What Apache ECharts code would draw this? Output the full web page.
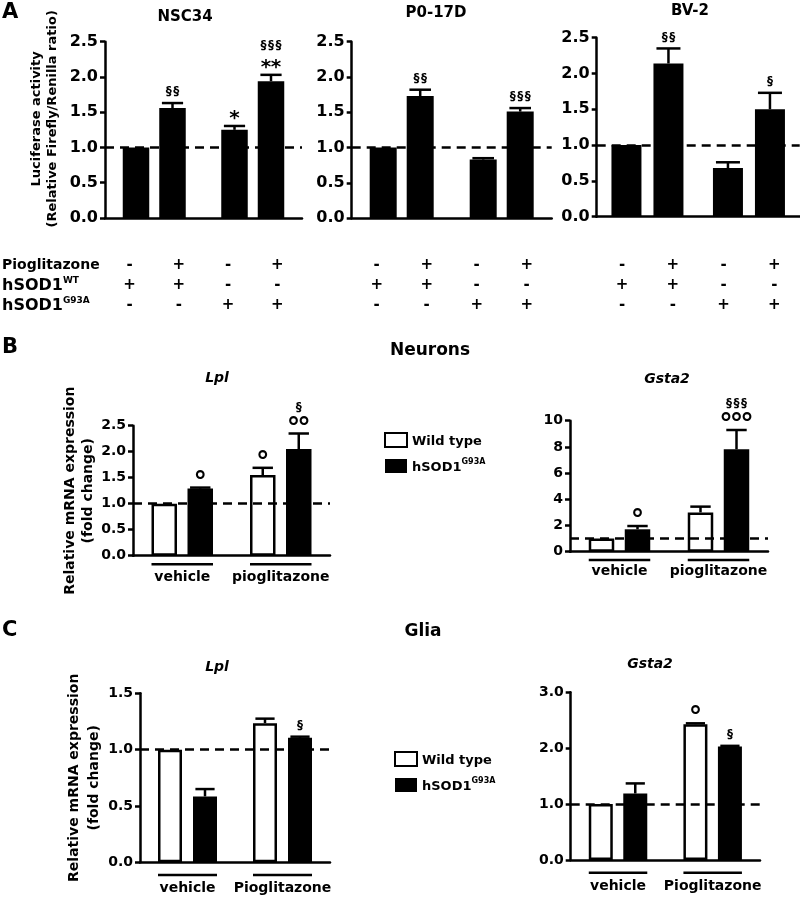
<!DOCTYPE html>
<html><head><meta charset="utf-8">
<script src="https://cdn.jsdelivr.net/npm/echarts@6/dist/echarts.min.js"></script>
<style>html,body{margin:0;padding:0;background:#fff}#c{width:800px;height:898px}</style>
</head><body><div id="c"></div>
<script>
const FONT = '"DejaVu Sans", sans-serif';

// ---------- Panel A : luciferase activity ----------
const nsc34Mean = [1.00, 1.56, 1.25, 1.94];
const nsc34Err  = [0.00, 0.07, 0.055, 0.09];
const nsc34Marks = [[], ['§§'], ['*'], ['**', '§§§']];
const p017dMean = [1.00, 1.73, 0.83, 1.51];
const p017dErr  = [0.00, 0.09, 0.02, 0.05];
const p017dMarks = [[], ['§§'], [], ['§§§']];
const bv2Mean = [1.00, 2.14, 0.68, 1.50];
const bv2Err  = [0.00, 0.21, 0.08, 0.23];
const bv2Marks = [[], ['§§'], [], ['§']];
const ticksA = [0, 0.5, 1.0, 1.5, 2.0, 2.5];
const pioglitazoneRow = ['-', '+', '-', '+'];
const hsod1WtRow      = ['+', '+', '-', '-'];
const hsod1G93aRow    = ['-', '-', '+', '+'];

// ---------- Panel B : neurons ----------
const treatmentsB = ['vehicle', 'pioglitazone'];
const neuronLplWT = [1.00, 1.55];
const neuronLplWTErr = [0.00, 0.14];
const neuronLplG93A = [1.29, 2.05];
const neuronLplG93AErr = [0.02, 0.30];
const neuronLplWTMarks = [[], ['°']];
const neuronLplG93AMarks = [['°'], ['°°', '§']];
const ticksNeuronLpl = [0, 0.5, 1.0, 1.5, 2.0, 2.5];

const neuronGstaWT = [1.00, 3.00];
const neuronGstaWTErr = [0.00, 0.44];
const neuronGstaG93A = [1.71, 7.82];
const neuronGstaG93AErr = [0.25, 1.47];
const neuronGstaWTMarks = [[], []];
const neuronGstaG93AMarks = [['°'], ['°°°', '§§§']];
const ticksNeuronGsta = [0, 2, 4, 6, 8, 10];

// ---------- Panel C : glia ----------
const treatmentsC = ['vehicle', 'Pioglitazone'];
const gliaLplWT = [1.00, 1.235];
const gliaLplWTErr = [0.00, 0.04];
const gliaLplG93A = [0.585, 1.105];
const gliaLplG93AErr = [0.065, 0.01];
const gliaLplWTMarks = [[], []];
const gliaLplG93AMarks = [[], ['§']];
const ticksGliaLpl = [0, 0.5, 1.0, 1.5];

const gliaGstaWT = [1.00, 2.43];
const gliaGstaWTErr = [0.00, 0.015];
const gliaGstaG93A = [1.19, 2.03];
const gliaGstaG93AErr = [0.18, 0.012];
const gliaGstaWTMarks = [[], ['°']];
const gliaGstaG93AMarks = [[], ['§']];
const ticksGliaGsta = [0, 1.0, 2.0, 3.0];

// ---------- layout ----------
const pairA = (arr, s) => [arr[s], arr[s + 2]];
const panels = [
  { grid: {left: 105, top: 41.7, width: 197, height: 176.3}, bw: 26.5, gap: 10, cats: ['WT', 'G93A'],
    first: pairA(nsc34Mean, 0), firstErr: pairA(nsc34Err, 0), firstMarks: pairA(nsc34Marks, 0),
    second: pairA(nsc34Mean, 1), secondErr: pairA(nsc34Err, 1), secondMarks: pairA(nsc34Marks, 1),
    ticks: ticksA, dec: 1, fs: 16, table: true, tableMargin: 37, white: false,
    yName: 'Luciferase activity\n(Relative Firefly/Renilla ratio)', nameGap: 44, nameFs: 13, nameLh: 16, namePad: [0, 0, 0, 22] },
  { grid: {left: 351.7, top: 41.7, width: 200, height: 176.5}, bw: 27, gap: 10, cats: ['WT', 'G93A'],
    first: pairA(p017dMean, 0), firstErr: pairA(p017dErr, 0), firstMarks: pairA(p017dMarks, 0),
    second: pairA(p017dMean, 1), secondErr: pairA(p017dErr, 1), secondMarks: pairA(p017dMarks, 1),
    ticks: ticksA, dec: 1, fs: 16, table: true, tableMargin: 37, white: false },
  { grid: {left: 596.7, top: 37.7, width: 203, height: 179}, bw: 30, gap: 12, cats: ['WT', 'G93A'],
    first: pairA(bv2Mean, 0), firstErr: pairA(bv2Err, 0), firstMarks: pairA(bv2Marks, 0),
    second: pairA(bv2Mean, 1), secondErr: pairA(bv2Err, 1), secondMarks: pairA(bv2Marks, 1),
    ticks: ticksA, dec: 1, fs: 16, table: true, tableMargin: 38.3, white: false },
  { grid: {left: 133, top: 425.7, width: 197, height: 130}, bw: 25.5, gap: 10.5, cats: treatmentsB,
    first: neuronLplWT, firstErr: neuronLplWTErr, firstMarks: neuronLplWTMarks,
    second: neuronLplG93A, secondErr: neuronLplG93AErr, secondMarks: neuronLplG93AMarks,
    ticks: ticksNeuronLpl, dec: 1, fs: 14, white: true, underline: 8.5, labelMargin: 15,
    yName: 'Relative mRNA expression\n(fold change)', nameGap: 34, nameFs: 14, nameLh: 18 },
  { grid: {left: 570, top: 420.7, width: 198, height: 131}, bw: 25.5, gap: 10.5, cats: treatmentsB,
    first: neuronGstaWT, firstErr: neuronGstaWTErr, firstMarks: neuronGstaWTMarks,
    second: neuronGstaG93A, secondErr: neuronGstaG93AErr, secondMarks: neuronGstaG93AMarks,
    ticks: ticksNeuronGsta, dec: 0, fs: 14, white: true, underline: 8.3, labelMargin: 13 },
  { grid: {left: 140, top: 693.3, width: 190, height: 169}, bw: 24, gap: 11, cats: treatmentsC,
    first: gliaLplWT, firstErr: gliaLplWTErr, firstMarks: gliaLplWTMarks,
    second: gliaLplG93A, secondErr: gliaLplG93AErr, secondMarks: gliaLplG93AMarks,
    ticks: ticksGliaLpl, dec: 1, fs: 14, white: true, underline: 12.7, labelMargin: 19,
    yName: 'Relative mRNA expression\n(fold change)', nameGap: 30, nameFs: 14, nameLh: 20 },
  { grid: {left: 570.7, top: 692.3, width: 189.3, height: 167.7}, bw: 24, gap: 10.5, cats: treatmentsC,
    first: gliaGstaWT, firstErr: gliaGstaWTErr, firstMarks: gliaGstaWTMarks,
    second: gliaGstaG93A, secondErr: gliaGstaG93AErr, secondMarks: gliaGstaG93AMarks,
    ticks: ticksGliaGsta, dec: 1, fs: 14, white: true, underline: 12.7, labelMargin: 19 }
];

// glyph look for the significance marks: font size, vertical nudge, spacing between repeated glyphs
const markGlyph = {
  '§': {size: 12, dy: 0, step: 7.5},
  '*': {size: 20, dy: 4, step: 10},
  '°': {size: 27, dy: 6, step: 10.5}
};

const grids = [], xAxes = [], yAxes = [], series = [];
panels.forEach((p, i) => {
  grids.push(Object.assign({containLabel: false}, p.grid));
  const xi = xAxes.length;
  xAxes.push({
    type: 'category', gridIndex: i, position: 'bottom', data: p.cats,
    axisLine: {show: true, lineStyle: {color: '#000', width: 2.5}},
    axisTick: {show: false},
    axisLabel: p.table ? {show: false} : {interval: 0, margin: p.labelMargin, color: '#000', fontFamily: FONT, fontWeight: 'bold', fontSize: 14}
  });
  if (p.table) {
    xAxes.push({
      type: 'category', gridIndex: i, position: 'bottom', data: ['1', '2', '3', '4'],
      axisLine: {show: false}, axisTick: {show: false},
      axisLabel: {interval: 0, margin: p.tableMargin, lineHeight: 20, color: '#000', fontFamily: FONT, fontWeight: 'bold', fontSize: 15,
        formatter: (v, idx) => pioglitazoneRow[idx] + '\n' + hsod1WtRow[idx] + '\n' + hsod1G93aRow[idx]}
    });
  }
  const t = p.ticks;
  yAxes.push({
    type: 'value', gridIndex: i, min: t[0], max: t[t.length - 1], interval: t[1] - t[0],
    axisLine: {show: true, lineStyle: {color: '#000', width: 2.5}},
    axisTick: {show: true, length: 5, lineStyle: {color: '#000', width: 2.5}},
    splitLine: {show: false},
    axisLabel: {margin: 7, color: '#000', fontFamily: FONT, fontWeight: 'bold', fontSize: p.fs,
      formatter: v => v.toFixed(p.dec)},
    name: p.yName || '', nameLocation: 'middle', nameRotate: 90, nameGap: p.nameGap || 0,
    nameTextStyle: {color: '#000', fontFamily: FONT, fontWeight: 'bold', fontSize: p.nameFs || 13, lineHeight: p.nameLh || 16, padding: p.namePad || 0}
  });
  const gapPct = (p.gap / p.bw * 100) + '%';
  const whiteStyle = {color: '#fff', borderColor: '#000', borderWidth: 2.5};
  const blackStyle = {color: '#000', borderColor: '#000', borderWidth: 0};
  series.push({
    type: 'bar', name: p.white ? 'Wild type' : 'bars' + i + 'a', xAxisIndex: xi, yAxisIndex: i,
    data: p.first, barWidth: p.bw, barGap: gapPct, itemStyle: p.white ? whiteStyle : blackStyle, silent: true
  });
  series.push({
    type: 'bar', name: p.white ? 'hSOD1G93A' : 'bars' + i + 'b', xAxisIndex: xi, yAxisIndex: i,
    data: p.second, barWidth: p.bw, barGap: gapPct, itemStyle: blackStyle, silent: true,
    markLine: {silent: true, symbol: ['none', 'none'], label: {show: false}, z: 10,
      lineStyle: {color: '#000', width: 2.5, type: [9, 6]}, data: [{yAxis: 1}]}
  });
  const items = [];
  p.cats.forEach((c, k) => {
    items.push({cat: k, side: 0, mean: p.first[k], err: p.firstErr[k], marks: p.firstMarks[k]});
    items.push({cat: k, side: 1, mean: p.second[k], err: p.secondErr[k], marks: p.secondMarks[k]});
  });
  series.push({
    type: 'custom', xAxisIndex: xi, yAxisIndex: i, clip: false, silent: true, z: 5,
    data: items.map(it => [it.cat, it.mean + it.err, it.mean]),
    encode: {x: 0, y: [1, 2]},
    renderItem: (params, api) => {
      const it = items[params.dataIndex];
      const off = (p.bw + p.gap) / 2 * (it.side ? 1 : -1);
      const top = api.coord([api.value(0), api.value(1)]);
      const base = api.coord([api.value(0), api.value(2)]);
      const x = top[0] + off;
      const ch = [];
      const ls = {stroke: '#000', lineWidth: 2.5};
      if (it.err > 0) {
        const cw = p.bw * 0.4;
        ch.push({type: 'line', shape: {x1: x, y1: base[1], x2: x, y2: top[1]}, style: ls});
        ch.push({type: 'line', shape: {x1: x - cw, y1: top[1], x2: x + cw, y2: top[1]}, style: ls});
      }
      let cy = top[1] - 11;
      it.marks.forEach((m, k) => {
        const g = markGlyph[m[0]];
        if (k > 0) cy -= (it.marks[k - 1][0] === '*' ? 18 : 15);
        const n = m.length;
        for (let j = 0; j < n; j++) {
          const gx = x + (j - (n - 1) / 2) * g.step;
          ch.push({type: 'text', x: gx, y: cy + g.dy, style: {text: m[j], fill: '#000',
            font: 'bold ' + g.size + 'px ' + FONT, align: 'center', verticalAlign: 'middle',
            textAlign: 'center', textVerticalAlign: 'middle'}});
        }
      });
      if (p.underline && it.side === 0) {
        const zero = api.coord([api.value(0), 0]);
        const half = (p.bw + p.gap) / 2 + p.bw / 2;
        const uy = zero[1] + p.underline;
        ch.push({type: 'line', shape: {x1: zero[0] - half, y1: uy, x2: zero[0] + half, y2: uy}, style: ls});
      }
      return {type: 'group', children: ch};
    }
  });
});

function txt(text, x, y, size, align, italic, rich) {
  const st = {text: text, fill: '#000', font: (italic ? 'italic ' : '') + 'bold ' + size + 'px ' + FONT,
    align: align, verticalAlign: 'middle', textAlign: align, textVerticalAlign: 'middle'};
  if (rich) st.rich = rich;
  return {type: 'text', x: x, y: y, style: st, silent: true};
}
const supRich = {
  a: {fontFamily: FONT, fontWeight: 'bold', fontSize: 16, lineHeight: 18, verticalAlign: 'bottom', color: '#000'},
  s: {fontFamily: FONT, fontWeight: 'bold', fontSize: 9, lineHeight: 8, verticalAlign: 'top', color: '#000'}
};
const legendRich = {
  a: {fontFamily: FONT, fontWeight: 'bold', fontSize: 13, lineHeight: 16, verticalAlign: 'bottom', color: '#000'},
  s: {fontFamily: FONT, fontWeight: 'bold', fontSize: 8, lineHeight: 8, verticalAlign: 'top', color: '#000'}
};

const graphics = [
  txt('A', 2, 13, 21, 'left'),
  txt('NSC34', 185, 17, 15, 'center'),
  txt('P0-17D', 436, 13, 15, 'center'),
  txt('BV-2', 690, 11, 15, 'center'),
  txt('Pioglitazone', 2, 265, 14, 'left'),
  txt('{a|hSOD1}{s|WT}', 2, 285, 16, 'left', false, supRich),
  txt('{a|hSOD1}{s|G93A}', 2, 305, 16, 'left', false, supRich),
  txt('B', 2, 348, 21, 'left'),
  txt('Neurons', 430, 351, 17, 'center'),
  txt('Lpl', 217, 378, 14, 'center', true),
  txt('Gsta2', 667, 379, 14, 'center', true),
  txt('C', 2, 631, 21, 'left'),
  txt('Glia', 423, 632, 17, 'center'),
  txt('Lpl', 217, 667, 14, 'center', true),
  txt('Gsta2', 650, 664, 14, 'center', true)
];

const legendItems = [
  {name: 'Wild type', itemStyle: {color: '#fff', borderColor: '#000', borderWidth: 2}},
  {name: 'hSOD1G93A', itemStyle: {color: '#000', borderColor: '#000', borderWidth: 0}}
];
const legendBase = {
  orient: 'vertical', icon: 'rect', itemWidth: 22, itemHeight: 14, itemGap: 10, selectedMode: false,
  data: legendItems,
  formatter: n => n === 'hSOD1G93A' ? '{a|hSOD1}{s|G93A}' : '{a|Wild type}',
  textStyle: {rich: legendRich}
};

const chart = echarts.init(document.getElementById('c'), null, {renderer: 'canvas'});
chart.setOption({
  animation: false,
  backgroundColor: '#fff',
  grid: grids, xAxis: xAxes, yAxis: yAxes, series: series,
  legend: [Object.assign({left: 379, top: 427}, legendBase), Object.assign({left: 389, top: 746}, legendBase)],
  graphic: graphics
});
</script></body></html>
